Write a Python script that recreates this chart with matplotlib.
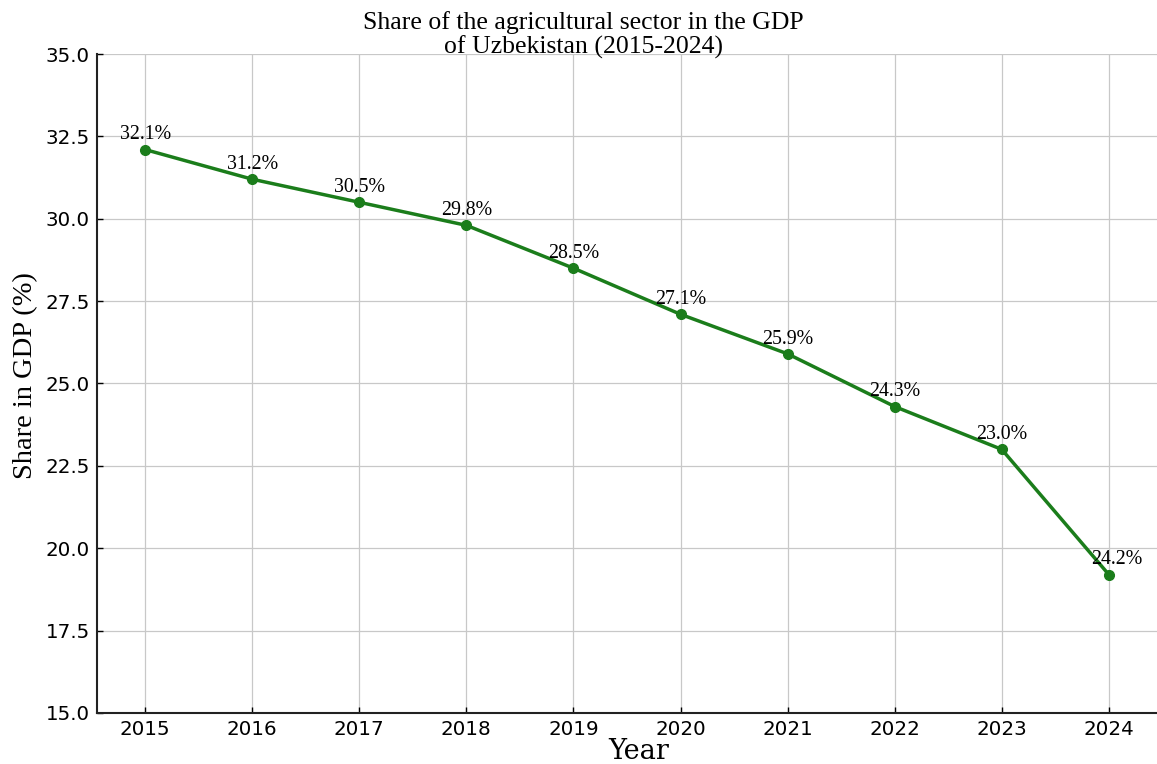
import matplotlib
matplotlib.use("Agg")
import matplotlib.pyplot as plt

years = [2015, 2016, 2017, 2018, 2019, 2020, 2021, 2022, 2023, 2024]
share = [32.1, 31.2, 30.5, 29.8, 28.5, 27.1, 25.9, 24.3, 23.0, 19.2]
labels = ["32.1%", "31.2%", "30.5%", "29.8%", "28.5%", "27.1%", "25.9%", "24.3%", "23.0%", "24.2%"]
yticks = [15.0, 17.5, 20.0, 22.5, 25.0, 27.5, 30.0, 32.5, 35.0]

fig = plt.figure(figsize=(11.57, 7.64), dpi=100)
ax = fig.add_axes([0.0838, 0.0668, 0.9162, 0.8625])

ax.plot(years, share, color="#1b7d1b", linewidth=2.5, marker="o", markersize=7, zorder=3)
for i, (x, y, t) in enumerate(zip(years, share, labels)):
    dx = 6 if i == len(years) - 1 else 0
    ax.annotate(t, (x, y), xytext=(dx, 3.8), textcoords="offset points", ha="center", va="bottom",
                fontsize=14.3, family="Liberation Serif", color="black")

ax.set_xlim(2014.55, 2024.45)
ax.set_ylim(15, 35)
ax.set_xticks(years)
ax.set_yticks(yticks)
ax.set_yticklabels([f"{v:.1f}" for v in yticks])
ax.tick_params(direction="in", labelsize=14.3, length=4, width=1, pad=5)
ax.grid(True, color="#c8c8c8", linewidth=0.9)
ax.set_axisbelow(True)
for s in ["top", "right"]:
    ax.spines[s].set_visible(False)
for s in ["left", "bottom"]:
    ax.spines[s].set_linewidth(1.5)
    ax.spines[s].set_color("#222222")

ax.set_xlabel("Year", family="DejaVu Serif", fontsize=19.5)
ax.xaxis.set_label_coords((639 - 97) / (1157 - 97), -(759 - 713) / (713 - 54))
ax.xaxis.label.set_va("baseline")
ax.set_ylabel("Share in GDP (%)", family="Liberation Serif", fontsize=20.5)
ax.yaxis.set_label_coords(-(97 - 38) / (1157 - 97), (713 - 376) / (713 - 54))
fig.text(583 / 1157, 1 - 11 / 764, "Share of the agricultural sector in the GDP\nof Uzbekistan (2015-2024)",
         ha="center", va="top", family="Liberation Serif", fontsize=18.5, linespacing=1.1)

fig.savefig("out.png", dpi=100)
